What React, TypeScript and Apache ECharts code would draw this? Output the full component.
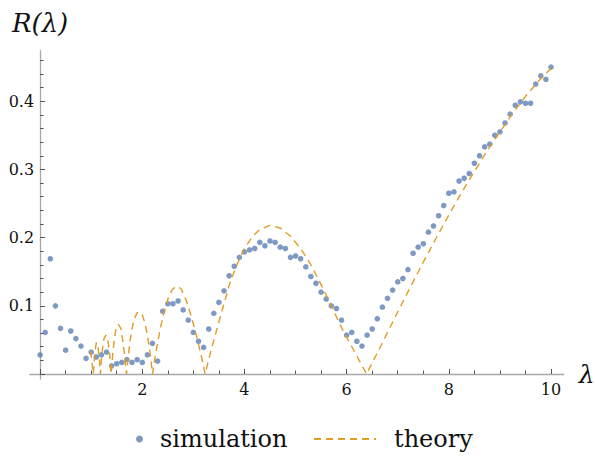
import React, { useEffect, useRef } from "react";
import * as echarts from "echarts";

// Simulated reflection coefficient, sampled every 0.1 in lambda
const simX = [
  0, 0.1, 0.2, 0.3, 0.4, 0.5, 0.6, 0.7, 0.8, 0.9,
  1.0, 1.1, 1.2, 1.3, 1.4, 1.5, 1.6, 1.7, 1.8, 1.9,
  2.0, 2.1, 2.2, 2.3, 2.4, 2.5, 2.6, 2.7, 2.8, 2.9,
  3.0, 3.1, 3.2, 3.3, 3.4, 3.5, 3.6, 3.7, 3.8, 3.9,
  4.0, 4.1, 4.2, 4.3, 4.4, 4.5, 4.6, 4.7, 4.8, 4.9,
  5.0, 5.1, 5.2, 5.3, 5.4, 5.5, 5.6, 5.7, 5.8, 5.9,
  6.0, 6.1, 6.2, 6.3, 6.4, 6.5, 6.6, 6.7, 6.8, 6.9,
  7.0, 7.1, 7.2, 7.3, 7.4, 7.5, 7.6, 7.7, 7.8, 7.9,
  8.0, 8.1, 8.2, 8.3, 8.4, 8.5, 8.6, 8.7, 8.8, 8.9,
  9.0, 9.1, 9.2, 9.3, 9.4, 9.5, 9.6, 9.7, 9.8, 9.9,
  10.0,
];
const simY = [
  0.028, 0.061, 0.169, 0.1, 0.067, 0.035, 0.063, 0.052, 0.041, 0.023,
  0.032, 0.025, 0.028, 0.032, 0.012, 0.015, 0.017, 0.021, 0.017, 0.021,
  0.017, 0.028, 0.045, 0.019, 0.092, 0.103, 0.103, 0.107, 0.094, 0.079,
  0.061, 0.048, 0.039, 0.066, 0.089, 0.105, 0.122, 0.144, 0.158, 0.171,
  0.179, 0.182, 0.184, 0.193, 0.188, 0.195, 0.193, 0.186, 0.184, 0.171,
  0.173, 0.169, 0.157, 0.143, 0.133, 0.12, 0.11, 0.1, 0.096, 0.079,
  0.057, 0.061, 0.048, 0.041, 0.057, 0.066, 0.081, 0.098, 0.111, 0.123,
  0.135, 0.14, 0.153, 0.177, 0.186, 0.191, 0.208, 0.217, 0.232, 0.247,
  0.265, 0.267, 0.283, 0.287, 0.294, 0.309, 0.32, 0.333, 0.337, 0.35,
  0.355, 0.368, 0.381, 0.394, 0.399, 0.397, 0.397, 0.425, 0.437, 0.432,
  0.45,
];

// Theoretical curve, |.|-shaped arcs between its zeros
const theoryX = [
  0.99, 1.04,
  1.07, 1.1, 1.13, 1.16, 1.18,
  1.21, 1.25, 1.29, 1.33, 1.36, 1.39,
  1.43, 1.48, 1.53, 1.58, 1.63, 1.69,
  1.72, 1.76, 1.8, 1.85, 1.9, 1.95, 2.0, 2.05, 2.1, 2.15, 2.2,
  2.27, 2.35, 2.43, 2.51, 2.59, 2.67, 2.76, 2.86, 2.96, 3.06, 3.15, 3.23,
  3.33, 3.45, 3.57, 3.7, 3.85, 4.0, 4.15, 4.3, 4.5, 4.7, 4.9, 5.1, 5.3, 5.5, 5.7, 5.9, 6.15, 6.39,
  6.6, 6.8, 7.0, 7.25, 7.5, 7.75, 8.0, 8.25, 8.5, 8.75, 9.0, 9.25, 9.5, 9.75, 10.0,
];
const theoryY = [
  0.034, 0,
  0.03, 0.046, 0.042, 0.022, 0,
  0.03, 0.052, 0.057, 0.048, 0.03, 0,
  0.036, 0.064, 0.073, 0.067, 0.043, 0,
  0.022, 0.048, 0.067, 0.082, 0.09, 0.091, 0.087, 0.075, 0.057, 0.033, 0,
  0.033, 0.066, 0.092, 0.112, 0.124, 0.129, 0.125, 0.108, 0.084, 0.056, 0.028, 0,
  0.03, 0.063, 0.095, 0.13, 0.16, 0.184, 0.201, 0.212, 0.218, 0.214, 0.202, 0.184, 0.16, 0.131, 0.1, 0.068, 0.033, 0,
  0.031, 0.061, 0.091, 0.128, 0.164, 0.199, 0.233, 0.266, 0.297, 0.327, 0.355, 0.382, 0.407, 0.429, 0.448,
];

const xTickLabels = [2, 4, 6, 8, 10];
const yTickLabels = [0.1, 0.2, 0.3, 0.4];

const FONT = "DejaVu Serif";
const INK = "#111111";
const AXIS_GRAY = "#a8a8a8";
const TICK_GRAY = "#555555";
const BLUE = "#5E81B5";
const ORANGE = "#E19C24";

const near = (v: number, list: number[]) => list.some((t) => Math.abs(t - v) < 1e-6);

export default function App() {
  const ref = useRef<HTMLDivElement>(null);

  useEffect(() => {
    if (!ref.current) return;
    const chart = echarts.init(ref.current, undefined, { renderer: "svg" });

    const hidden = { show: false };
    // fixed plot rectangles; no automatic shrinking to fit labels
    const fixed = { containLabel: false, outerBoundsMode: "none" };
    const plotGrid = { ...fixed, left: 29.88, right: 31.2, top: 50.7, bottom: 80 };
    const minorGrid = { ...fixed, left: 40.1, right: 44, top: 60.3, bottom: 85 };
    const majorGrid = { ...fixed, left: 40.1, right: 44, top: 101.2, bottom: 85 };
    const legendText = { fontFamily: FONT, fontSize: 24, color: INK };

    chart.setOption({
      animation: false,
      backgroundColor: "#ffffff",
      textStyle: { fontFamily: FONT },
      grid: [plotGrid, minorGrid, majorGrid],
      legend: [
        {
          data: ["simulation"],
          left: 136,
          top: 427,
          padding: 0,
          itemWidth: 7,
          itemHeight: 7,
          icon: "circle",
          textStyle: { ...legendText, padding: [22, 0, 0, 12] },
        },
        {
          data: ["theory"],
          left: 313,
          top: 427,
          padding: 0,
          itemWidth: 62,
          itemHeight: 10,
          itemStyle: { color: "rgba(0,0,0,0)", borderWidth: 0, opacity: 0 },
          textStyle: { ...legendText, padding: [22, 0, 0, 13] },
        },
      ],
      xAxis: [
        {
          // axis line crossing the origin, with the lambda label
          gridIndex: 0,
          type: "value",
          min: -0.2,
          max: 10.25,
          axisLine: { onZero: true, lineStyle: { color: AXIS_GRAY, width: 1.3 } },
          axisTick: hidden,
          axisLabel: hidden,
          splitLine: hidden,
          name: "λ",
          nameLocation: "end",
          nameGap: 15,
          nameTextStyle: {
            fontFamily: FONT,
            fontStyle: "italic",
            fontSize: 25,
            color: INK,
            padding: [0, 0, 22, 0],
          },
        },
        {
          // minor ticks every 0.5
          gridIndex: 1,
          type: "value",
          min: 0,
          max: 10,
          interval: 0.5,
          axisLine: hidden,
          axisTick: { inside: true, length: 3.5, lineStyle: { color: TICK_GRAY, width: 1 } },
          axisLabel: hidden,
          splitLine: hidden,
        },
        {
          // major ticks and labels
          gridIndex: 2,
          type: "value",
          min: 0,
          max: 10,
          interval: 2,
          axisLine: hidden,
          axisTick: { inside: true, length: 5, lineStyle: { color: TICK_GRAY, width: 1 } },
          axisLabel: {
            interval: 0,
            margin: 7,
            fontFamily: FONT,
            fontSize: 16,
            color: INK,
            formatter: (v: number) => (near(v, xTickLabels) ? String(v) : ""),
          },
          splitLine: hidden,
        },
      ],
      yAxis: [
        {
          gridIndex: 0,
          type: "value",
          min: -0.0073,
          max: 0.474,
          axisLine: { onZero: true, lineStyle: { color: AXIS_GRAY, width: 1.3 } },
          axisTick: hidden,
          axisLabel: hidden,
          splitLine: hidden,
          name: "R(λ)",
          nameLocation: "end",
          nameGap: 15,
          nameTextStyle: { fontFamily: FONT, fontStyle: "italic", fontSize: 26, color: INK },
        },
        {
          gridIndex: 1,
          type: "value",
          min: 0,
          max: 0.46,
          interval: 0.02,
          axisLine: hidden,
          axisTick: { inside: true, length: 3.5, lineStyle: { color: TICK_GRAY, width: 1 } },
          axisLabel: hidden,
          splitLine: hidden,
        },
        {
          gridIndex: 2,
          type: "value",
          min: 0,
          max: 0.4,
          interval: 0.1,
          axisLine: hidden,
          axisTick: { inside: true, length: 5, lineStyle: { color: TICK_GRAY, width: 1 } },
          axisLabel: {
            interval: 0,
            margin: 6,
            fontFamily: FONT,
            fontSize: 16,
            color: INK,
            formatter: (v: number) => (near(v, yTickLabels) ? v.toFixed(1) : ""),
          },
          splitLine: hidden,
        },
      ],
      series: [
        {
          name: "simulation",
          type: "scatter",
          xAxisIndex: 0,
          yAxisIndex: 0,
          data: simX.map((x, i) => [x, simY[i]]),
          symbol: "circle",
          symbolSize: 5.6,
          itemStyle: { color: BLUE },
          clip: false,
          z: 2,
        },
        {
          name: "theory",
          type: "line",
          xAxisIndex: 0,
          yAxisIndex: 0,
          data: theoryX.map((x, i) => [x, theoryY[i]]),
          symbol: "none",
          showSymbol: false,
          lineStyle: { color: ORANGE, width: 1.4, type: [7, 5] },
          itemStyle: { color: ORANGE },
          clip: false,
          z: 3,
        },
      ],
    });

    return () => chart.dispose();
  }, []);

  return (
    <div
      ref={ref}
      style={{ position: "fixed", left: 0, top: 0, width: 595, height: 459, background: "#fff" }}
    />
  );
}
